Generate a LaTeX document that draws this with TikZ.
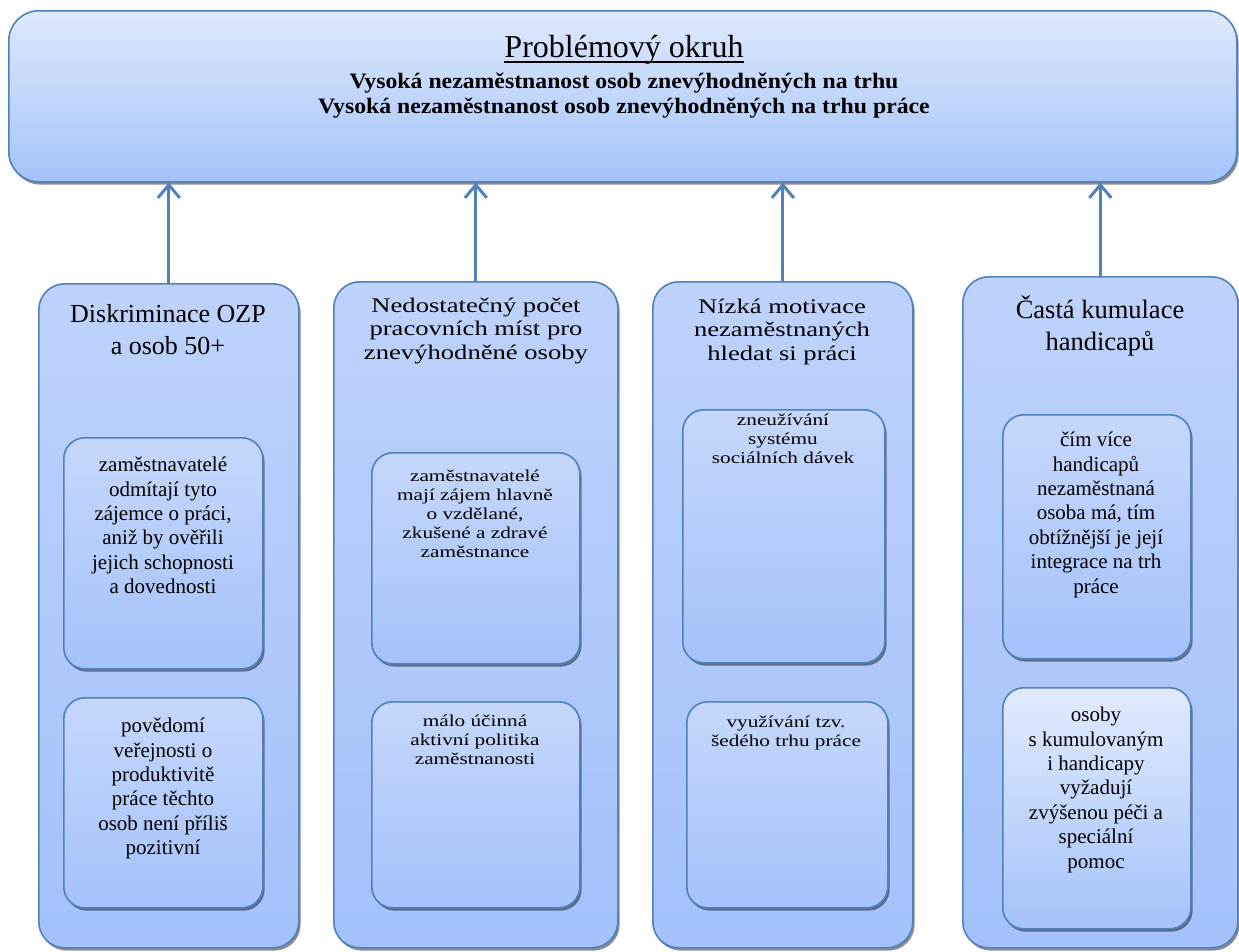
\documentclass[tikz,border=0pt]{standalone}
\usepackage{fontspec}
\setmainfont{Liberation Serif}
\newfontfamily\widefont[FakeStretch=1.28]{Liberation Serif}
\newfontfamily\boldwide[FakeStretch=1.08]{Liberation Serif}
\usetikzlibrary{arrows.meta,shadows}
\definecolor{bordc}{RGB}{79,129,189}
\definecolor{topA}{RGB}{222,233,252}
\definecolor{topB}{RGB}{164,195,250}
\definecolor{colA}{RGB}{190,210,251}
\definecolor{colB}{RGB}{163,193,250}
\definecolor{inA}{RGB}{198,215,251}
\definecolor{inB}{RGB}{164,194,250}
\definecolor{inC}{RGB}{226,235,253}
\newcommand\mkblk[2]{\parbox[t]{#1pt}{\centering #2}}
\tikzset{
  basebox/.style={draw=bordc, line width=1.6pt, inner sep=0pt, anchor=north west,
    drop shadow={shadow xshift=1.8pt, shadow yshift=-2.8pt, fill=black, opacity=0.45}},
  topbox/.style={basebox, rounded corners=30pt, top color=topA, bottom color=topB},
  colbox/.style={basebox, rounded corners=26pt, top color=colA, bottom color=colB},
  inbox/.style={basebox, rounded corners=21pt, top color=inA, bottom color=inB},
  txt/.style={anchor=base, inner sep=0pt},
  uparrow/.style={draw=bordc, line width=3pt, -{Straight Barb[length=13pt,width=22pt]}},
}
\begin{document}
\begin{tikzpicture}[x=1pt, y=-1pt]
\useasboundingbox (0,0) rectangle (1239,951);
% main box
\node[topbox, minimum width=1228, minimum height=171] (top) at (8,10) {};
\node[txt] (ttl) at (624,57) {\fontsize{32}{36}\selectfont\setbox0=\hbox{Problémový okruh}\rlap{\rule[-5.5pt]{\wd0}{1.8pt}}\box0};
\node[txt] (sub) at (624,88) {\mkblk{1000}{\boldwide\bfseries\fontsize{22}{25}\selectfont Vysoká nezaměstnanost osob znevýhodněných na trhu\\Vysoká nezaměstnanost osob znevýhodněných na trhu práce}};
% columns
\node[colbox, minimum width=260, minimum height=664] (c1) at (38,283) {};
\node[colbox, minimum width=284, minimum height=666] (c2) at (333,281) {};
\node[colbox, minimum width=260, minimum height=666] (c3) at (652,281) {};
\node[colbox, minimum width=275, minimum height=671] (c4) at (962,276) {};
% arrows
\foreach \c in {c1,c2,c3,c4}{\draw[uparrow] (\c.north) -- (\c.north |- top.south);}
% headings
\node[txt] (h1) at (168,322) {\mkblk{250}{\fontsize{26}{32}\selectfont Diskriminace OZP\\a osob 50+}};
\node[txt] (h2) at (476,312) {\mkblk{280}{\widefont\fontsize{20.8}{23.5}\selectfont Nedostatečný počet\\pracovních míst pro\\znevýhodněné osoby}};
\node[txt] (h3) at (782,313) {\mkblk{255}{\widefont\fontsize{20.8}{23.5}\selectfont Nízká motivace\\nezaměstnaných\\hledat si práci}};
\node[txt] (h4) at (1100,318) {\mkblk{270}{\fontsize{26.5}{32}\selectfont Častá kumulace\\handicapů}};
% inner boxes
\node[inbox, minimum width=199, minimum height=231] (i1a) at (63,437) {};
\node[inbox, minimum width=199, minimum height=210] (i1b) at (63,697) {};
\node[inbox, minimum width=208, minimum height=211] (i2a) at (371,452) {};
\node[inbox, minimum width=208, minimum height=206] (i2b) at (371,701) {};
\node[inbox, minimum width=202, minimum height=253] (i3a) at (682,409) {};
\node[inbox, minimum width=201, minimum height=206] (i3b) at (686,701) {};
\node[inbox, minimum width=188, minimum height=244] (i4a) at (1002,414) {};
\node[inbox, top color=inC, minimum width=188, minimum height=241] (i4b) at (1002,687) {};
% inner texts
\node[txt] (t1a) at (163,471.7) {\mkblk{195}{\fontsize{21}{24.4}\selectfont zaměstnavatelé\\odmítají tyto\\zájemce o~práci,\\aniž by ověřili\\jejich schopnosti\\a dovednosti}};
\node[txt] (t1b) at (163,732.7) {\mkblk{195}{\fontsize{21}{24.4}\selectfont povědomí\\veřejnosti o\\produktivitě\\práce těchto\\osob není příliš\\pozitivní}};
\node[txt] (t2a) at (475,481) {\mkblk{205}{\widefont\fontsize{16.6}{19}\selectfont zaměstnavatelé\\mají zájem hlavně\\o vzdělané,\\zkušené a zdravé\\zaměstnance}};
\node[txt] (t2b) at (475,726) {\mkblk{205}{\widefont\fontsize{16.6}{19}\selectfont málo účinná\\aktivní politika\\zaměstnanosti}};
\node[txt] (t3a) at (783,425) {\mkblk{200}{\widefont\fontsize{16.6}{19}\selectfont zneužívání\\systému\\sociálních dávek}};
\node[txt] (t3b) at (786,727) {\mkblk{200}{\widefont\fontsize{16.6}{19}\selectfont využívání tzv.\\šedého trhu práce}};
\node[txt] (t4a) at (1096,446.7) {\mkblk{185}{\fontsize{21}{24.4}\selectfont čím více\\handicapů\\nezaměstnaná\\osoba má, tím\\obtížnější je její\\integrace na trh\\práce}};
\node[txt] (t4b) at (1096,721.7) {\mkblk{185}{\fontsize{21}{24.4}\selectfont osoby\\s~kumulovaným\\i handicapy\\vyžadují\\zvýšenou péči a\\speciální\\pomoc}};
\end{tikzpicture}
\end{document}
